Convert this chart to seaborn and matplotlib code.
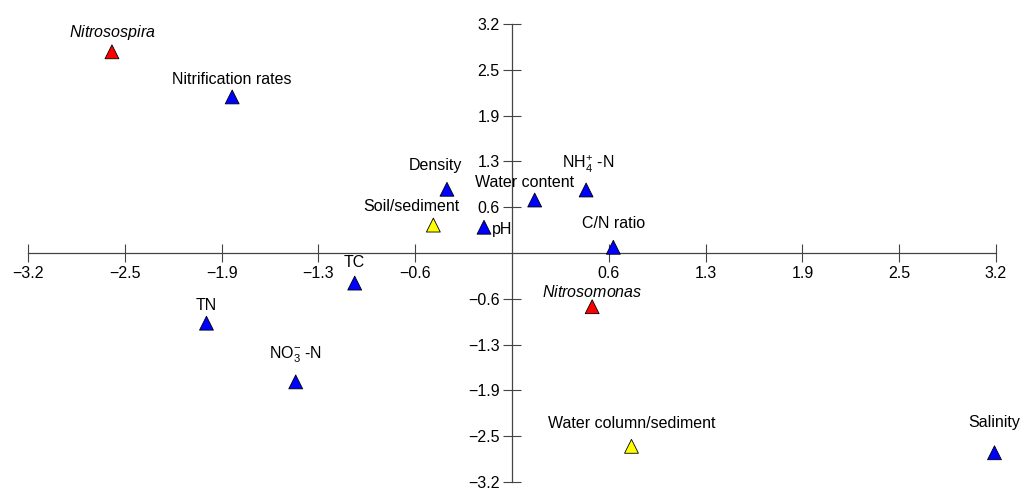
import matplotlib
matplotlib.use("Agg")
import matplotlib.pyplot as plt
import seaborn as sns
import pandas as pd

# ---- data ----
names = ["Nitrosospira", "Nitrification rates", "Density", "Soil/sediment", "pH",
         "Water content", "NH4", "C/N ratio", "TC", "TN", "NO3",
         "Nitrosomonas", "Water column/sediment", "Salinity"]
display_labels = [r"$\it{Nitrosospira}$", "Nitrification rates", "Density", "Soil/sediment", "pH",
                  "Water content", r"NH$_4^{+}$ -N", "C/N ratio", "TC", "TN", r"NO$_3^{-}$ -N",
                  r"$\it{Nitrosomonas}$", "Water column/sediment", "Salinity"]
x_scores = [-2.645, -1.85, -0.43, -0.52, -0.185, 0.15, 0.49, 0.67, -1.04, -2.02, -1.43, 0.53, 0.79, 3.19]
y_scores = [2.81, 2.18, 0.89, 0.39, 0.36, 0.74, 0.88, 0.08, -0.42, -0.98, -1.80, -0.75, -2.70, -2.79]
groups = ["taxon", "variable", "variable", "habitat", "variable", "variable", "variable",
          "variable", "variable", "variable", "variable", "taxon", "habitat", "variable"]

tick_positions = [-3.2, -2.56, -1.92, -1.28, -0.64, 0.64, 1.28, 1.92, 2.56, 3.2]
tick_labels = ["\u22123.2", "\u22122.5", "\u22121.9", "\u22121.3", "\u22120.6",
               "0.6", "1.3", "1.9", "2.5", "3.2"]

# ---- layout / style ----
palette = {"variable": "#0000ff", "taxon": "#ff0000", "habitat": "#ffff00"}
# label offsets in pixels (dx, dy) and horizontal alignment
label_offsets = {
    "Nitrosospira": (0, 19, "center"), "Nitrification rates": (0, 17, "center"),
    "Density": (-12, 24, "center"), "Soil/sediment": (-22, 19, "center"),
    "pH": (8, -2, "left"), "Water content": (-10, 18, "center"),
    "NH4": (2, 26, "center"), "C/N ratio": (0, 24, "center"), "TC": (0, 21, "center"),
    "TN": (0, 18, "center"), "NO3": (0, 27, "center"), "Nitrosomonas": (0, 15, "center"),
    "Water column/sediment": (0, 23, "center"), "Salinity": (0, 30, "center"),
}

sns.set_theme(style="white")
plt.rcParams["font.family"] = ["Liberation Sans", "DejaVu Sans"]
plt.rcParams["mathtext.fontset"] = "custom"
plt.rcParams["mathtext.rm"] = "Liberation Sans"
plt.rcParams["mathtext.it"] = "Liberation Sans:italic"
plt.rcParams["mathtext.bf"] = "Liberation Sans:bold"

dpi = 100
fig = plt.figure(figsize=(10.21, 4.91), dpi=dpi)
ax = fig.add_axes([0, 0, 1, 1])

df = pd.DataFrame({"name": names, "x": x_scores, "y": y_scores, "group": groups})
sns.scatterplot(data=df, x="x", y="y", hue="group", palette=palette, marker="^",
                s=100, edgecolor="black", linewidth=0.6, legend=False, ax=ax, zorder=3)

px_x = 151.25
px_y = 71.6
ax.set_xlim(-3.2 - 28 / px_x, 3.2 + (1021 - 996) / px_x)
ax.set_ylim(-(491 - 253) / px_y, 253 / px_y)

for sp in ["top", "right"]:
    ax.spines[sp].set_visible(False)
for sp in ["left", "bottom"]:
    ax.spines[sp].set_position(("data", 0))
    ax.spines[sp].set_bounds(-3.2, 3.2)
    ax.spines[sp].set_color("#444444")
    ax.spines[sp].set_linewidth(0.9)

ax.set_xticks(tick_positions)
ax.set_xticklabels(tick_labels)
ax.set_yticks(tick_positions)
ax.set_yticklabels(tick_labels)
ax.tick_params(axis="both", which="major", bottom=True, left=True, top=False, right=False,
               direction="inout", length=13, width=0.8, color="#444444",
               labelsize=11.5, labelcolor="black", pad=2.5)
ax.set_xlabel("")
ax.set_ylabel("")

pt = 72.0 / dpi
for name, lab, xv, yv in zip(names, display_labels, x_scores, y_scores):
    dx, dy, ha = label_offsets[name]
    ax.annotate(lab, (xv, yv), xytext=(dx * pt, dy * pt), textcoords="offset points",
                ha=ha, va="center", fontsize=11.5, color="black", annotation_clip=False)

fig.savefig("out.png", dpi=dpi)
